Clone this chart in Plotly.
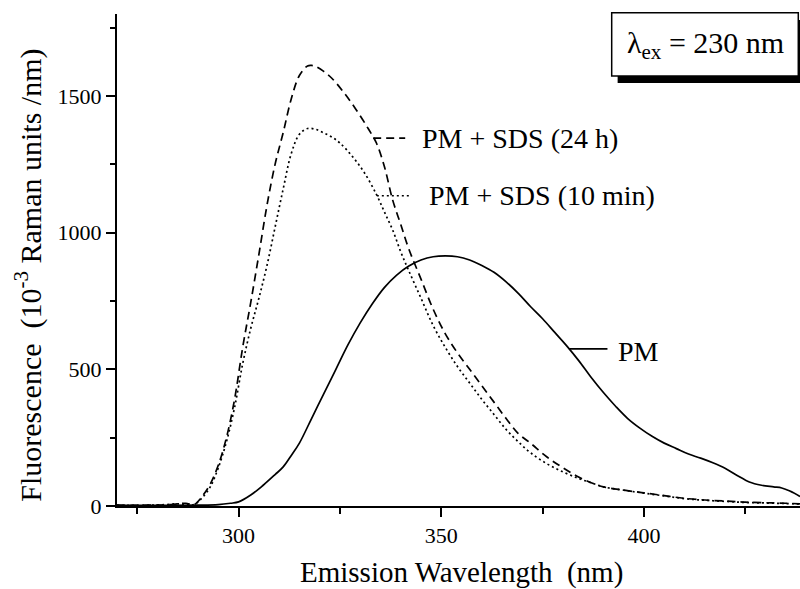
import plotly.graph_objects as go

# Emission spectra (excitation 230 nm), fluorescence in 10^-3 Raman units / nm
wl_24h = [270, 274, 278, 282, 285, 287, 289, 291, 293, 295, 297, 299, 301, 303, 305, 307,
          309, 311, 313, 315, 317, 318, 319, 321, 323, 326, 329, 332, 334, 336, 338, 340,
          342, 345, 348, 351, 354, 357, 360, 363, 366, 369, 372, 376, 380, 384, 387, 390,
          395, 400, 405, 410, 415, 420, 425, 430, 435, 438.5]
fl_24h = [3, 2, 3, 4, 8, 10, 5, 35, 80, 150, 250, 390, 580, 745, 920, 1100,
          1250, 1366, 1490, 1575, 1610, 1612, 1608, 1590, 1565, 1512, 1450, 1380, 1328, 1240, 1120, 1030,
          940, 830, 720, 630, 560, 500, 440, 380, 320, 265, 230, 180, 140, 105, 85, 70,
          58, 48, 38, 28, 22, 18, 14, 12, 10, 8]

wl_10m = [270, 274, 278, 282, 285, 287, 289, 291, 293, 295, 297, 299, 301, 303, 305, 307,
          309, 311, 313, 315, 317, 319, 321, 323, 325, 328, 331, 334, 336, 338, 340, 342,
          345, 348, 351, 354, 357, 360, 363, 366, 369, 372, 376, 380, 384, 387, 390, 395,
          400, 405, 410, 415, 420, 425, 430, 435, 438.5]
fl_10m = [3, 2, 3, 5, 8, 6, 5, 30, 70, 140, 235, 360, 520, 650, 760, 880,
          1020, 1160, 1290, 1360, 1381, 1378, 1365, 1350, 1328, 1280, 1220, 1140, 1075, 1010, 930, 860,
          760, 660, 580, 510, 450, 390, 335, 280, 235, 195, 155, 125, 100, 85, 70, 58,
          47, 37, 27, 21, 17, 13, 11, 9, 7]

wl_pm = [270, 280, 290, 295, 298, 300, 303, 306, 309, 311, 313, 315, 318, 321, 324, 327,
         330, 333, 336, 339, 342, 345, 348, 351, 354, 357, 360, 363, 366, 369, 372, 375,
         378, 381, 384, 387, 390, 393, 396, 399, 402, 405, 408, 411, 414, 417, 420, 423,
         426, 429, 432, 434, 436, 438.5]
fl_pm = [2, 2, 3, 5, 10, 15, 40, 75, 115, 143, 185, 230, 320, 410, 500, 590,
         670, 740, 800, 845, 878, 900, 912, 915, 912, 900, 880, 855, 820, 778, 730, 685,
         635, 585, 530, 470, 415, 365, 320, 285, 255, 230, 210, 190, 175, 158, 138, 112,
         88, 76, 70, 66, 55, 35]

x_ticks = [300, 350, 400]
y_ticks = [0, 500, 1000, 1500]

FONT = "Liberation Serif, Times New Roman, serif"
INK = "black"

fig = go.Figure()
fig.add_trace(go.Scatter(x=wl_24h, y=fl_24h, mode="lines", line_shape="spline",
                         line=dict(color=INK, width=1.7, dash="8px,5px"), name="PM + SDS (24 h)"))
fig.add_trace(go.Scatter(x=wl_10m, y=fl_10m, mode="lines", line_shape="spline",
                         line=dict(color=INK, width=1.7, dash="2px,3px"), name="PM + SDS (10 min)"))
fig.add_trace(go.Scatter(x=wl_pm, y=fl_pm, mode="lines", line_shape="spline",
                         line=dict(color=INK, width=1.7), name="PM"))

# leader lines for the in-plot series labels
fig.add_shape(type="line", x0=333.2, x1=341.1, y0=1346, y1=1346,
              line=dict(color=INK, width=1.7, dash="8px,5px"))
fig.add_shape(type="line", x0=334.1, x1=342.3, y0=1135, y1=1135,
              line=dict(color=INK, width=1.7, dash="2px,3px"))
fig.add_shape(type="line", x0=381.5, x1=391, y0=575, y1=575,
              line=dict(color=INK, width=1.7))

lab_font = dict(family=FONT, size=28, color=INK)
fig.add_annotation(x=344.8, y=1346, text="PM + SDS (24 h)", showarrow=False,
                   xanchor="left", yanchor="middle", font=lab_font)
fig.add_annotation(x=346.4, y=1135, text="PM + SDS (10 min)", showarrow=False,
                   xanchor="left", yanchor="middle", font=lab_font)
fig.add_annotation(x=393, y=565, text="PM", showarrow=False,
                   xanchor="left", yanchor="middle", font=lab_font)

# excitation wavelength box with drop shadow
fig.add_shape(type="rect", xref="paper", yref="paper", x0=0.733, x1=1.01, y0=0.860, y1=0.988,
              fillcolor=INK, line=dict(width=0), layer="above")
fig.add_shape(type="rect", xref="paper", yref="paper", x0=0.7243, x1=0.9975, y0=0.874, y1=1.0027,
              fillcolor="white", line=dict(color=INK, width=1.5), layer="above")
fig.add_annotation(xref="paper", yref="paper", x=0.861, y=0.938, text="λ<sub>ex</sub> = 230 nm",
                   showarrow=False, xanchor="center", yanchor="middle",
                   font=dict(family=FONT, size=30, color=INK))

# axis titles
fig.add_annotation(xref="paper", yref="paper", x=0.504, y=0, yshift=-66,
                   text="Emission Wavelength  (nm)", showarrow=False,
                   xanchor="center", yanchor="middle", font=dict(family=FONT, size=29, color=INK))
fig.add_annotation(xref="paper", yref="paper", x=0, xshift=-88, y=0.468,
                   text="Fluorescence  (10<sup>-3</sup> Raman units /nm)", textangle=-90,
                   showarrow=False, xanchor="center", yanchor="middle",
                   font=dict(family=FONT, size=30, color=INK))

fig.update_xaxes(range=[270, 438.5], tickmode="array", tickvals=x_ticks,
                 ticktext=[str(v) for v in x_ticks],
                 showline=True, linecolor=INK, linewidth=2, ticks="outside", ticklen=9,
                 tickwidth=2, tickcolor=INK, showgrid=False, zeroline=False,
                 tickfont=dict(family=FONT, size=22, color=INK),
                 minor=dict(tickvals=[275, 325, 375, 425], ticks="outside", ticklen=6,
                            tickwidth=1.5, tickcolor=INK, showgrid=False))
fig.update_yaxes(range=[0, 1800], tickmode="array", tickvals=y_ticks,
                 ticktext=[str(v) for v in y_ticks],
                 showline=True, linecolor=INK, linewidth=2, ticks="outside", ticklen=9,
                 tickwidth=2, tickcolor=INK, showgrid=False, zeroline=False,
                 tickfont=dict(family=FONT, size=22, color=INK),
                 minor=dict(tickvals=[250, 750, 1250, 1750], ticks="outside", ticklen=5,
                            tickwidth=1.5, tickcolor=INK, showgrid=False))

fig.update_layout(width=800, height=589, margin=dict(l=117, r=0, t=14, b=83),
                  paper_bgcolor="white", plot_bgcolor="white", showlegend=False)

fig.write_html("out.html")
